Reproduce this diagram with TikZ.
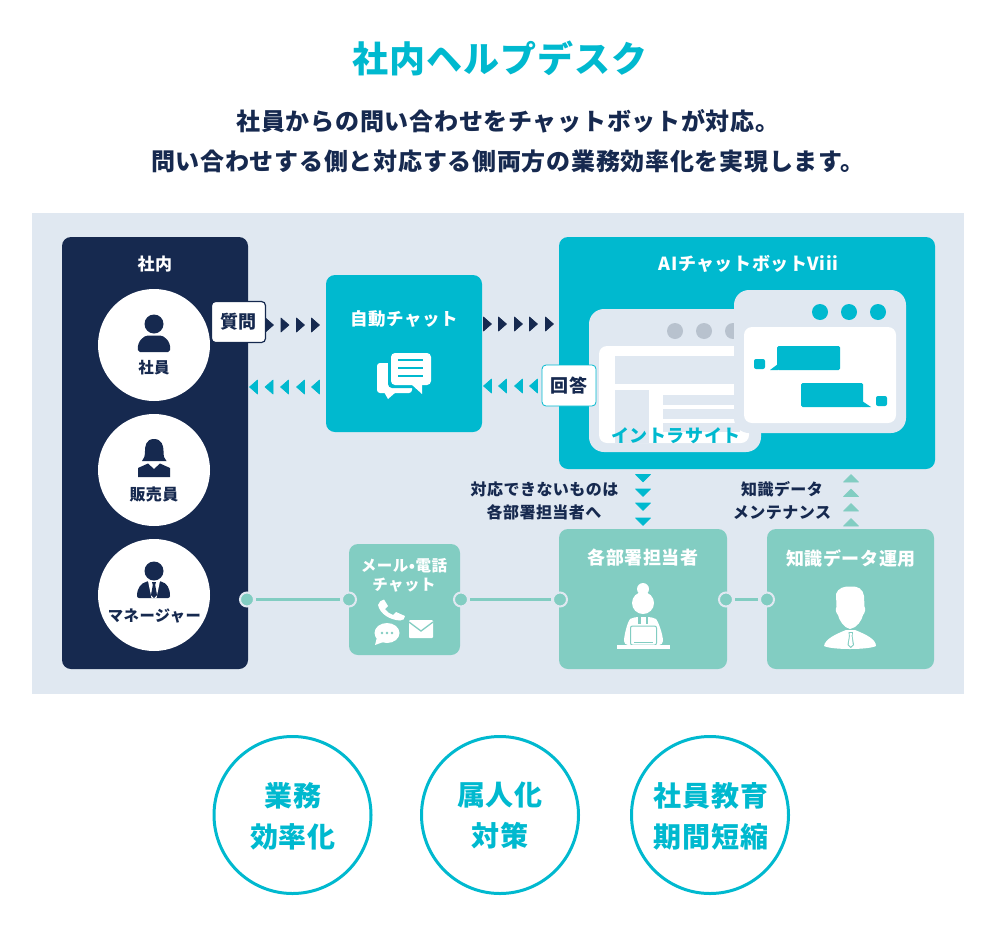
\documentclass[tikz,border=0pt]{standalone}
\usepackage{fontspec}
\setmainfont{Noto Sans CJK JP}
\definecolor{teal}{HTML}{00B9CF}
\definecolor{navy}{HTML}{16294F}
\definecolor{mint}{HTML}{82CDC2}
\definecolor{pale}{HTML}{E0E8F1}
\definecolor{dotgrey}{HTML}{B8C2CE}
\newcommand\fnt[2]{\fontsize{#1}{#2}\selectfont\bfseries\addfontfeature{LetterSpace=3}}
\tikzset{
 x=1pt,y=-1pt,
 lbl/.style={inner sep=0pt,outer sep=0pt,align=center},
 panel/.style={rounded corners=9pt},
 tagbox/.style={draw,line width=1.2pt,fill=white,rounded corners=4pt,inner sep=0pt,minimum height=41pt,minimum width=54pt,text=navy,font=\fnt{18}{22}},
 conn/.style={circle,draw=pale,line width=2pt,fill=mint,minimum size=14pt,inner sep=0pt,outer sep=2pt},
 ring/.style={circle,draw=teal,line width=3pt,fill=white,minimum size=157pt,inner sep=0pt},
 ringtext/.style={lbl,text=teal,font=\fnt{28}{41}},
 person/.style={circle,fill=white,minimum size=112pt,inner sep=0pt},
 wline/.style={line width=2.4pt,draw=teal},
 chev/.style={line width=.6pt,line join=round},
}
\begin{document}
\begin{tikzpicture}
\useasboundingbox (0,0) rectangle (1000,934);
\fill[white] (0,0) rectangle (1000,934);
\node[lbl,text=teal,font=\fnt{36}{40}] (title) at (500,58) {社内ヘルプデスク};
\node[lbl,text=navy,font=\fnt{24}{28}] (sub1) at (508,121) {社員からの問い合わせをチャットボットが対応。};
\node[lbl,text=navy,font=\fnt{24}{28}] (sub2) at (508,161) {問い合わせする側と対応する側両方の業務効率化を実現します。};
\fill[pale] (32,213) rectangle (964,694);
% left panel
\fill[navy,panel] (62,237) rectangle (248,669);
\node[lbl,text=white,font=\fnt{17}{20}] (inside) at (155,264) {社内};
\node[person] (c1) at (154,345) {};
\node[person] (c2) at (154,470) {};
\node[person] (c3) at (154,595) {};
% person 1
\fill[navy] (154,324) circle (9.5);
\fill[navy,rounded corners=2pt] (138,352) .. controls (137,341) and (144,335.5) .. (150,335.5) -- (158,335.5) .. controls (164,335.5) and (171,341) .. (170,352) -- cycle;
\node[lbl,text=navy,font=\fnt{15.5}{18}] (t1) at (154,368) {社員};
% person 2
\fill[navy] (154,439) .. controls (146,439) and (145,446) .. (145,451) .. controls (145,456) and (144,459) .. (142,461) -- (166.5,461) .. controls (164,459) and (163.5,456) .. (163.5,451) .. controls (163.5,446) and (162,439) .. (154,439) -- cycle;
\fill[navy] (138,477) -- (138,468) -- (148,463.5) -- (154,469) -- (160,463.5) -- (170,468) -- (170,477) -- cycle;
\node[lbl,text=navy,font=\fnt{16}{19}] (t2) at (154,494) {販売員};
% person 3
\fill[navy] (154,571) circle (9.5);
\fill[navy,rounded corners=2pt] (137,598) .. controls (137,588) and (141,583) .. (149,581) -- (159,581) .. controls (167,583) and (170,588) .. (170,598) -- cycle;
\fill[white] (148,581) -- (160,581) -- (156.5,598) -- (151.5,598) -- cycle;
\fill[navy] (152,582) -- (156,582) -- (155.2,585) -- (157,595) -- (154,598) -- (151,595) -- (152.8,585) -- cycle;
\node[lbl,text=navy,font=\fnt{15.3}{18}] (t3) at (154.5,616) {マネージャー};
% auto chat
\node[panel,fill=teal,minimum width=156pt,minimum height=157pt,inner sep=0pt] (auto) at (404,353.5) {};
\node[lbl,text=white,font=\fnt{17.5}{22}] (autot) at (404,319) {自動チャット};
\fill[white,rounded corners=3pt] (377,363) rectangle (412,393);
\fill[white] (384,392) -- (388,399) -- (396,392) -- cycle;
\fill[teal,rounded corners=4pt] (388,350) rectangle (434,388);
\fill[white,rounded corners=4pt] (391,353) rectangle (431,385);
\fill[white] (411,384) -- (422,394) -- (422,384) -- cycle;
\draw[wline,draw=teal] (398,360) -- (423,360) (398,368) -- (423,368) (398,376) -- (423,376);
% AI box
\node[panel,fill=teal,minimum width=376pt,minimum height=232pt,inner sep=0pt] (ai) at (747,353) {};
\node[lbl,text=white,font=\fnt{18}{22}] (ait) at (748.5,264) {AIチャットボットViii};
\fill[pale,rounded corners=15pt] (589,309) rectangle (761,452);
\foreach \x in {675,704,733} \fill[dotgrey] (\x,331) circle (8);
\fill[white,rounded corners=8pt] (599,346) rectangle (749,443);
\fill[pale] (615,356) rectangle (740,384);
\fill[pale] (615,390) rectangle (649,443);
\fill[pale] (663,395) rectangle (740,405);
\fill[pale] (663,409) rectangle (740,419);
\fill[pale] (663,423) rectangle (740,432);
\node[lbl,text=teal,font=\fnt{18}{21}] (intra) at (676,436) {イントラサイト};
\fill[pale,rounded corners=15pt] (734,290) rectangle (906,433);
\foreach \x in {820,849,878} \fill[teal] (\x,312) circle (8);
\fill[white,rounded corners=8pt] (744,327) rectangle (896,423);
\fill[teal,rounded corners=1.5pt] (777,346) rectangle (840,370);
\fill[teal] (770,370) -- (778,370) -- (778,364) -- cycle;
\fill[teal,rounded corners=2pt] (754,359) rectangle (765,369);
\fill[teal,rounded corners=1.5pt] (801,383) rectangle (863,407);
\fill[teal] (871,407) -- (862,407) -- (862,401) -- cycle;
\fill[teal,rounded corners=2pt] (876,396) rectangle (887,406);
% tags
\node[tagbox,draw=navy] (ask) at (238.5,322) {質問};
\node[tagbox,draw=teal,line width=0.8pt] (ans) at (569,385.5) {回答};
% chevrons
\foreach \x in {265.5,281,296.5,311.5} \filldraw[navy,chev] (\x,318) -- (\x+8,325) -- (\x,332) -- cycle;
\foreach \x in {249.5,265,280.5,296.5,311.5} \filldraw[teal,chev] (\x+8,380) -- (\x,387) -- (\x+8,394) -- cycle;
\foreach \x in {483.5,498.5,514.5,529.5,545.5} \filldraw[navy,chev] (\x,317) -- (\x+8,324) -- (\x,331) -- cycle;
\foreach \x in {483.5,498.5,514.5,529.5} \filldraw[teal,chev] (\x+8,379) -- (\x,386) -- (\x+8,393) -- cycle;
\foreach \y in {474.5,489,503,518} \filldraw[teal,chev] (635.5,\y) -- (650.5,\y) -- (643,\y+7.5) -- cycle;
\foreach \y in {474.5,489,503.5,518.5} \filldraw[mint,chev] (843.5,\y+7.5) -- (858.5,\y+7.5) -- (851,\y) -- cycle;
\node[lbl,text=navy,font=\fnt{16}{20}] (esc1) at (544.5,489) {対応できないものは};
\node[lbl,text=navy,font=\fnt{16}{20}] (esc2) at (544,512.5) {各部署担当者へ};
\node[lbl,text=navy,font=\fnt{16}{20}] (kn1) at (782,489) {知識データ};
\node[lbl,text=navy,font=\fnt{16}{20}] (kn2) at (782,513) {メンテナンス};
% lower boxes
\node[panel,fill=mint,minimum width=111pt,minimum height=111pt,inner sep=0pt] (mail) at (404.5,599.5) {};
\node[lbl,text=white,font=\fnt{15.5}{19.5}] (mailt) at (404,575.5) {メール•電話\\チャット};
\node[panel,fill=mint,minimum width=168pt,minimum height=140pt,inner sep=0pt] (dept) at (643,599) {};
\node[lbl,text=white,font=\fnt{18}{22}] (deptt) at (643,558) {各部署担当者};
\node[panel,fill=mint,minimum width=167pt,minimum height=140pt,inner sep=0pt] (kd) at (850.5,599) {};
\node[lbl,text=white,font=\fnt{18}{22}] (kdt) at (851,558) {知識データ運用};
% phone
\fill[white] (378,605) .. controls (379,602) and (381,600) .. (384,599.5) -- (388,606) -- (385,609) .. controls (387,612) and (390,614) .. (393,615) -- (396,612) -- (405,616) .. controls (405,619) and (403,620.5) .. (400,620.5) .. controls (390,620) and (380,614) .. (378,605) -- cycle;
% bubble
\fill[white] (387,633) ellipse (12.5 and 10);
\fill[white] (377,637) -- (375,645) -- (386,641) -- cycle;
\foreach \x in {382,387,392} \fill[mint] (\x,633) circle (1.3);
% envelope
\fill[white,rounded corners=1pt] (409,620) rectangle (433,638);
\draw[mint,line width=1.3pt] (409,622) -- (421,631) -- (433,622);
% desk person
\fill[white] (643,589) circle (6);
\fill[white] (643,603) circle (11);
\fill[white,rounded corners=4pt] (624,645) .. controls (624,635) and (628,620) .. (634,617) -- (652,617) .. controls (658,620) and (663,635) .. (663,645) -- cycle;
\fill[mint] (638,615) -- (640.5,615) -- (640.5,624) -- (638,624) -- cycle;
\fill[mint] (645.5,615) -- (648,615) -- (648,624) -- (645.5,624) -- cycle;
\draw[mint,line width=1pt,rounded corners=2pt,fill=white] (630.5,626) rectangle (656.5,645);
\draw[mint,line width=.8pt] (634,642) -- (653,642);
\fill[white] (617,645) rectangle (670,649);
% man
\fill[white] (836,594) .. controls (838,588) and (844,586) .. (851,586.5) .. controls (858,586) and (863,589) .. (864,596) -- (864.5,607) .. controls (866,608) and (865,613) .. (863,615) .. controls (862,620) and (857,628) .. (850,629) .. controls (844,628) and (839,620) .. (838,615) .. controls (836,613) and (835,609) .. (836.5,607) -- cycle;
\fill[white] (824,646) .. controls (825,639) and (836,634) .. (846,630) -- (855,630) .. controls (865,634) and (876,639) .. (876,646) .. controls (868,650) and (832,650) .. (824,646) -- cycle;
\fill[mint] (848.5,632) -- (853,632) -- (852.5,636) -- (854,645) -- (850.7,648) -- (847.5,645) -- (849,636) -- cycle;
\fill[white] (849.5,633) -- (852,633) -- (851.6,636) -- (852.8,644.5) -- (850.7,646.5) -- (848.7,644.5) -- (849.9,636) -- cycle;
% connectors
\node[conn] (d1) at (247,599.5) {};
\node[conn] (d2) at (349,599.5) {};
\node[conn] (d3) at (461,599.5) {};
\node[conn] (d4) at (560,599.5) {};
\node[conn] (d5) at (726,599.5) {};
\node[conn] (d6) at (767,599.5) {};
\draw[mint,line width=2.2pt] (d1) -- (d2);
\draw[mint,line width=2.2pt] (d3) -- (d4);
\draw[mint,line width=2.2pt] (d5) -- (d6);
% bottom
\node[ring] (r1) at (292.5,815) {};
\node[ring] (r2) at (500,815) {};
\node[ring] (r3) at (710,815) {};
\node[ringtext] (r1t) at (293,816) {業務\\効率化};
\node[ringtext] (r2t) at (500,816) {属人化\\対策};
\node[ringtext] (r3t) at (711,816) {社員教育\\期間短縮};
\end{tikzpicture}
\end{document}
